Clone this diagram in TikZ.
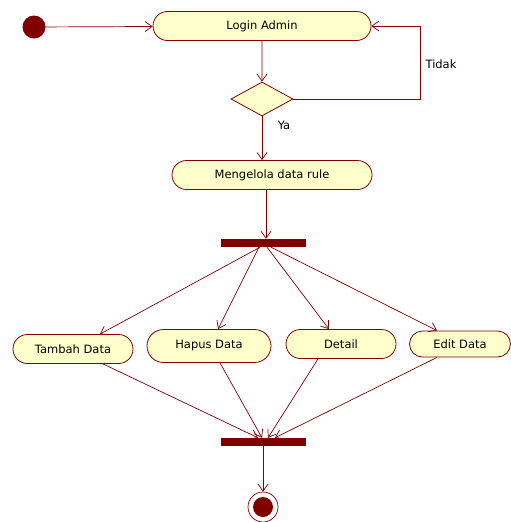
\documentclass[tikz,border=0pt]{standalone}
\usepackage{fontspec}
\setmainfont{DejaVu Sans}
\usetikzlibrary{arrows.meta,shapes.geometric,shapes.misc}
\definecolor{umlred}{RGB}{128,0,0}
\definecolor{umlfill}{RGB}{255,255,204}

\begin{document}
\begin{tikzpicture}[x=1pt,y=-1pt,
	font=\fontsize{11.5}{13}\selectfont,
	action/.style={rounded rectangle,draw=umlred,fill=umlfill,line width=0.8pt,inner sep=0pt},
	decision/.style={diamond,draw=umlred,fill=umlfill,line width=0.8pt,inner sep=0pt,minimum width=62pt,minimum height=34pt},
	bar/.style={rectangle,fill=umlred,inner sep=0pt,minimum width=85pt,minimum height=8pt},
	flow/.style={draw=umlred,line width=0.7pt,-{Straight Barb[length=7pt,width=10pt]}}]
	\useasboundingbox (0,0) rectangle (511,522);
	% nodes
	\node[circle,fill=umlred,minimum size=23pt,inner sep=0pt] (start) at (34,27) {};
	\node[action,minimum width=218pt,minimum height=29pt] (login) at (262,26) {Login Admin};
	\node[decision] (dec) at (262,99) {};
	\node[action,minimum width=200pt,minimum height=29pt] (kelola) at (272,175) {Mengelola data rule};
	\node[bar] (fork) at (263,243) {};
	\node[action,minimum width=120pt,minimum height=29pt] (tambah) at (73,349) {Tambah Data};
	\node[action,minimum width=124pt,minimum height=33pt] (hapus) at (209,346) {Hapus Data};
	\node[action,minimum width=110pt,minimum height=29pt] (detail) at (341,344) {Detail};
	\node[action,minimum width=101pt,minimum height=26pt] (edit) at (460,344) {Edit Data};
	\node[bar] (join) at (263,442) {};
	\node[circle,draw=umlred,fill=white,line width=0.7pt,minimum size=30pt,inner sep=0pt] (final) at (263,507) {};
	\fill[umlred] (final) circle (10pt);
	\coordinate (loop) at (420,99);
	% flows
	\draw[flow] (start) -- (login);
	\draw[flow] (login) -- (dec);
	\draw[flow] (dec.east) -- (loop) |- (login.east);
	\node at (441,64) {Tidak};
	\draw[flow] (dec.south) -- (dec.south |- kelola.north);
	\node at (284,125) {Ya};
	\draw[flow] (kelola.south -| 266,0) -- (fork.north -| 266,0);
	\draw[flow] ([xshift=-3pt]fork.south) -- ([xshift=27pt]tambah.north);
	\draw[flow] ([xshift=-4pt]fork.south) -- ([xshift=9pt]hapus.north);
	\draw[flow] ([xshift=4pt]fork.south) -- ([xshift=-12pt]detail.north);
	\draw[flow] ([xshift=8pt]fork.south) -- ([xshift=-23pt]edit.north);
	\draw[flow] ([xshift=30pt]tambah.south) -- ([xshift=-5pt]join.north);
	\draw[flow] ([xshift=11pt]hapus.south) -- ([xshift=-1pt]join.north);
	\draw[flow] ([xshift=-23pt]detail.south) -- ([xshift=5pt]join.north);
	\draw[flow] ([xshift=-23pt]edit.south) -- ([xshift=12pt]join.north);
	\draw[flow] (join) -- (final);
\end{tikzpicture}
\end{document}
